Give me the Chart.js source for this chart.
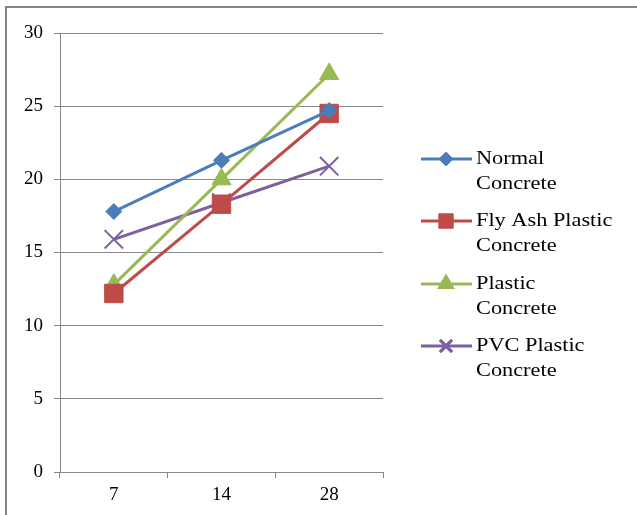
<!DOCTYPE html>
<html>
<head>
<meta charset="utf-8">
<script src="https://cdn.jsdelivr.net/npm/chart.js@4/dist/chart.umd.min.js"></script>
<style>
  html, body { margin: 0; padding: 0; background: #fff; }
  #wrap { width: 637px; height: 515px; position: relative; }
</style>
</head>
<body>
<div id="wrap"><canvas id="strengthChart" width="637" height="515"></canvas></div>
<script>
// Data
const ages = ["7", "14", "28"];
const normalConcrete = [17.8, 21.3, 24.7];
const flyAshPlastic = [12.2, 18.3, 24.5];
const plasticConcrete = [12.8, 20.0, 27.2];
const pvcPlastic = [15.9, 18.4, 20.9];
const legendLines = [
  ["Normal", "Concrete"],
  ["Fly Ash Plastic", "Concrete"],
  ["Plastic", "Concrete"],
  ["PVC Plastic", "Concrete"],
];

const gridGray = "#878787";
const serif = "'Liberation Serif', 'Times New Roman', serif";

function series(label, data, color, style, radius) {
  return {
    label: label,
    data: data,
    borderColor: color,
    backgroundColor: color,
    borderWidth: 3,
    pointStyle: style,
    pointRadius: radius,
    pointHoverRadius: radius,
    pointBorderWidth: style === "crossRot" ? 2 : 1,
    pointBackgroundColor: color,
    pointBorderColor: color,
    tension: 0,
    fill: false,
  };
}

// outer frame (top and left edges)
const framePlugin = {
  id: "frame",
  beforeDraw(chart) {
    const c = chart.ctx;
    c.save();
    c.fillStyle = "#fff";
    c.fillRect(0, 0, chart.width, chart.height);
    c.strokeStyle = "#858585";
    c.lineWidth = 2;
    c.beginPath();
    c.moveTo(6, chart.height);
    c.lineTo(6, 7);
    c.lineTo(chart.width, 7);
    c.stroke();
    c.restore();
  },
};

// legend with two-line labels at the right
const sideLegend = {
  id: "sideLegend",
  afterDraw(chart) {
    const c = chart.ctx;
    const rows = [159, 221, 284, 346];
    c.save();
    chart.data.datasets.forEach((ds, i) => {
      const y = rows[i];
      c.strokeStyle = ds.borderColor;
      c.lineWidth = 3;
      c.beginPath();
      c.moveTo(421, y);
      c.lineTo(472, y);
      c.stroke();
      Chart.helpers.drawPoint(c, {
        pointStyle: ds.pointStyle,
        radius: ds.pointRadius * 0.65,
        borderWidth: ds.pointBorderWidth,
        rotation: 0,
      }, 446, y);
      c.fillStyle = ds.borderColor;
      c.strokeStyle = ds.borderColor;
      c.fill();
      c.stroke();
      c.fillStyle = "#000";
      c.font = "18px " + serif;
      c.textBaseline = "middle";
      legendLines[i].forEach((t, k) => {
        c.save();
        c.translate(476, y + k * 25);
        c.scale(1.24, 1);
        c.fillText(t, 0, 0);
        c.restore();
      });
    });
    c.restore();
  },
};

const ctx = document.getElementById("strengthChart").getContext("2d");
const chart = new Chart(ctx, {
  type: "line",
  data: {
    labels: ages,
    datasets: [
      series("Normal Concrete", normalConcrete, "#4A7EBB", "rectRot", 8),
      series("Fly Ash Plastic Concrete", flyAshPlastic, "#BE4B48", "rect", 13),
      series("Plastic Concrete", plasticConcrete, "#98B954", "triangle", 11),
      series("PVC Plastic Concrete", pvcPlastic, "#7D60A0", "crossRot", 13),
    ],
  },
  options: {
    responsive: false,
    animation: false,
    layout: { padding: { top: 33, right: 254, left: 0, bottom: 0 } },
    plugins: {
      legend: { display: false },
      tooltip: { enabled: false },
    },
    scales: {
      x: {
        offset: true,
        afterFit(scale) { scale.height = 43; },
        grid: {
          offset: true,
          drawOnChartArea: false,
          drawTicks: true,
          tickLength: 6,
          color: gridGray,
        },
        border: { display: true, color: gridGray, width: 1 },
        ticks: {
          color: "#000",
          padding: 6,
          font: { family: serif, size: 19 },
        },
      },
      y: {
        min: 0,
        max: 30,
        afterFit(scale) { scale.width = 60; },
        grid: {
          color: gridGray,
          drawTicks: true,
          tickLength: 6,
        },
        border: { display: true, color: gridGray, width: 1 },
        ticks: {
          stepSize: 5,
          color: "#000",
          padding: 11,
          font: { family: serif, size: 19 },
        },
      },
    },
  },
  plugins: [framePlugin, sideLegend],
});
</script>
</body>
</html>
